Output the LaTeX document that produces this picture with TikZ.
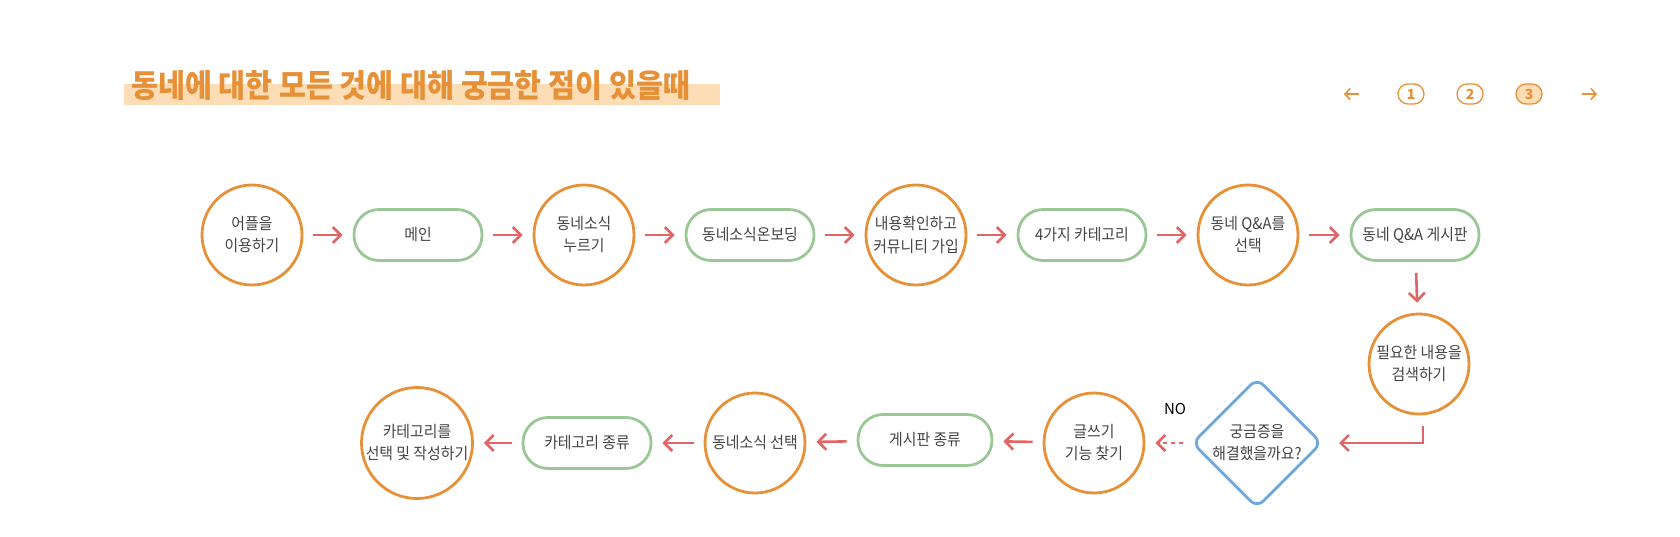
\documentclass[tikz,border=0pt]{standalone}
\usepackage{fontspec}
\setmainfont{Noto Sans CJK KR}
\newfontfamily\nodefont{Noto Sans CJK KR}[FakeStretch=0.93]
\newfontfamily\titlefont{Noto Sans CJK KR}[FakeStretch=0.915]
\usetikzlibrary{arrows.meta,shapes.geometric}
\definecolor{orng}{HTML}{E69138}
\definecolor{grn}{HTML}{9BC797}
\definecolor{redc}{HTML}{E06666}
\definecolor{blu}{HTML}{6FA8DC}
\definecolor{txt}{HTML}{444444}
\definecolor{hl}{HTML}{FDDDB6}
\tikzset{
  circ/.style={circle, draw=orng, line width=2.8pt, minimum size=100pt, inner sep=0pt, align=center, text=txt, font=\nodefont\fontsize{16}{22}\selectfont},
  stad/.style={rectangle, rounded corners=25pt, draw=grn, line width=2.8pt, minimum width=128pt, minimum height=51pt, inner sep=0pt, align=center, text=txt, font=\nodefont\fontsize{16}{22}\selectfont},
  arr/.style={draw=redc, line width=2.6pt, -{Straight Barb[length=8pt,width=16pt]}, shorten <=10pt, shorten >=10pt},
  navbox/.style={rectangle, rounded corners=10pt, draw=orng, line width=1.3pt, minimum width=26pt, minimum height=20pt, inner sep=0pt, text=orng, font=\fontsize{14}{14}\selectfont\bfseries},
  navarr/.style={draw=orng, line width=1.6pt, -{Straight Barb[length=5pt,width=11pt]}},
}
\begin{document}
\begin{tikzpicture}[x=1pt,y=-1pt]
\useasboundingbox (0,0) rectangle (1680,537);
% title
\fill[hl] (124,84) rectangle (720,105);
\node[anchor=west, text=orng, inner sep=0pt, font=\titlefont\bfseries\fontsize{32}{32}\selectfont] (title) at (131,86) {동네에 대한 모든 것에 대해 궁금한 점이 있을때};
% navigation
\coordinate (la1) at (1359,94); \coordinate (la2) at (1344,94);
\draw[navarr] (la1) -- (la2);
\node[navbox] (n1) at (1411,94) {1};
\node[navbox] (n2) at (1470,94) {2};
\node[navbox, fill=hl] (n3) at (1529,94) {3};
\coordinate (ra1) at (1582,94); \coordinate (ra2) at (1597,94);
\draw[navarr] (ra1) -- (ra2);
% row 1
\node[circ] (c1) at (252,235) {어플을\\이용하기};
\node[stad] (s1) at (418,235) {메인};
\node[circ] (c2) at (584,235) {동네소식\\누르기};
\node[stad] (s2) at (750,235) {동네소식온보딩};
\node[circ] (c3) at (916,235) {내용확인하고\\커뮤니티 가입};
\node[stad] (s3) at (1082,235) {4가지 카테고리};
\node[circ] (c4) at (1248,235) {동네 Q\&A를\\선택};
\node[stad] (s4) at (1415,235) {동네 Q\&A 게시판};
\node[circ] (c5) at (1419,364) {필요한 내용을\\검색하기};
% row 2
\node[diamond, draw=blu, line width=2.8pt, rounded corners=9pt, minimum width=130pt, minimum height=130pt, inner sep=0pt] (d) at (1257,443) {};
\node[align=center, text=txt, font=\nodefont\fontsize{16}{22}\selectfont] (dt) at (1257,443) {궁금증을\\해결했을까요?};
\node[circ] (c6) at (1094,443) {글쓰기\\기능 찾기};
\node[stad, minimum width=134pt] (s5) at (925,440) {게시판 종류};
\node[circ] (c7) at (755,443) {동네소식 선택};
\node[stad] (s6) at (587,443) {카테고리 종류};
\node[circ, minimum size=111pt] (c8) at (417,443) {카테고리를\\선택 및 작성하기};
\node[font=\fontsize{15}{15}\selectfont] (no) at (1175,409) {NO};
% arrows row 1
\draw[arr] (c1) -- (s1);
\draw[arr] (s1) -- (c2);
\draw[arr] (c2) -- (s2);
\draw[arr] (s2) -- (c3);
\draw[arr] (c3) -- (s3);
\draw[arr] (s3) -- (c4);
\draw[arr] (c4) -- (s4);
\draw[arr, shorten <=11pt] (s4) -- (c5);
% elbow
\coordinate (e1) at (1423,426);
\coordinate (e2) at (1339,443);
\draw[arr, shorten <=0pt, shorten >=0pt] (e1) |- (e2);
% dashed
\draw[arr, dash pattern=on 4pt off 3.7pt, shorten <=8pt] (d.west) -- (c6);
% row 2
\draw[arr] (c6) -- (s5);
\draw[arr] (s5) -- (c7);
\draw[arr] (c7) -- (s6);
\draw[arr] (s6) -- (c8);
\end{tikzpicture}
\end{document}
